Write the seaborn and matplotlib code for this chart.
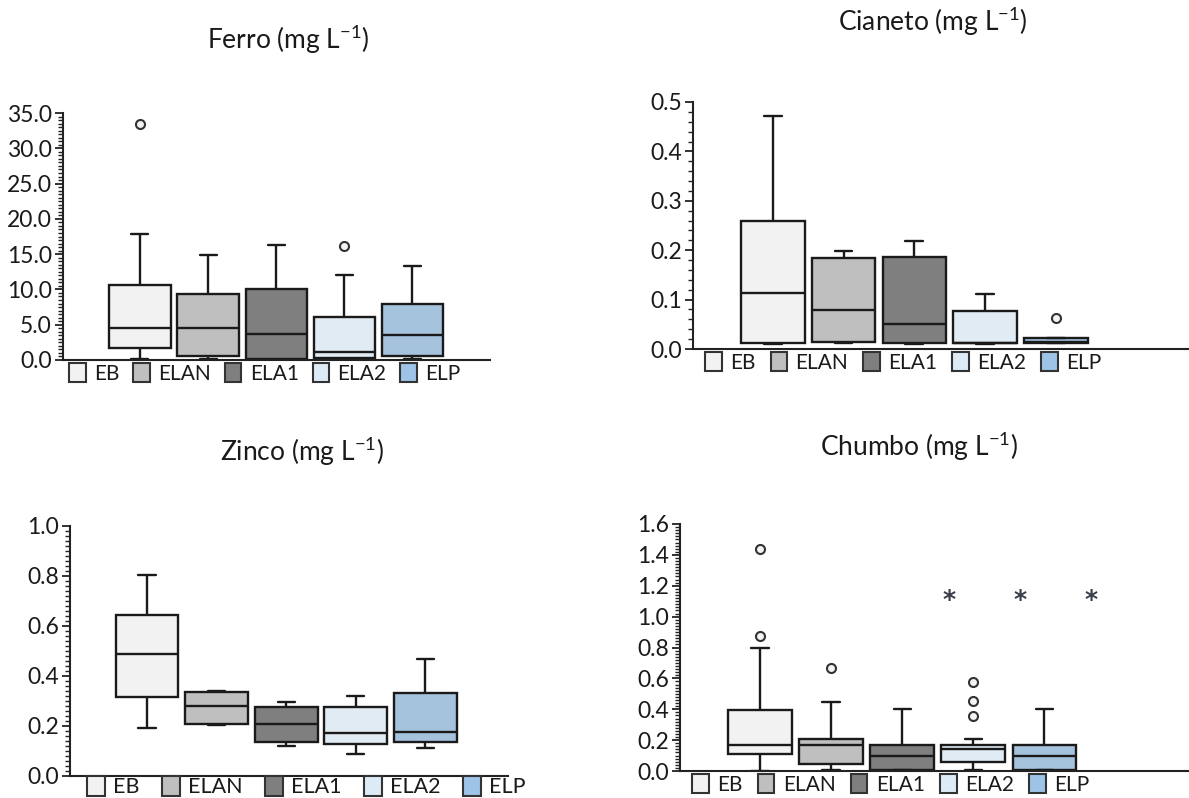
import numpy as np
import pandas as pd
import matplotlib
matplotlib.use("Agg")
import matplotlib.pyplot as plt
import seaborn as sns
from matplotlib.patches import Patch
from matplotlib.ticker import MultipleLocator, FormatStrFormatter

# ---------------- data (five-number summaries) ----------------
categorias = ["EB", "ELAN", "ELA1", "ELA2", "ELP"]
cores = ["#f2f2f2", "#bfbfbf", "#7f7f7f", "#ddebf7", "#9dc3e6"]

ferro_min = [0.1, 0.1, 0.05, 0.1, 0.2]
ferro_q1 = [1.75, 0.57, 0.1, 0.3, 0.5]
ferro_med = [4.6, 4.6, 3.7, 1.2, 3.5]
ferro_q3 = [10.6, 9.3, 10.0, 6.1, 7.9]
ferro_max = [17.8, 14.9, 16.3, 12.0, 13.3]
ferro_out_grupo = ["EB", "ELA2"]
ferro_out_valor = [33.4, 16.2]

cianeto_min = [0.010, 0.012, 0.010, 0.010, 0.012]
cianeto_q1 = [0.012, 0.014, 0.012, 0.012, 0.012]
cianeto_med = [0.114, 0.079, 0.050, 0.013, 0.015]
cianeto_q3 = [0.260, 0.184, 0.187, 0.076, 0.022]
cianeto_max = [0.472, 0.199, 0.219, 0.111, 0.022]
cianeto_out_grupo = ["ELP"]
cianeto_out_valor = [0.062]

zinco_min = [0.191, 0.204, 0.120, 0.088, 0.113]
zinco_q1 = [0.317, 0.208, 0.137, 0.128, 0.137]
zinco_med = [0.487, 0.280, 0.208, 0.171, 0.177]
zinco_q3 = [0.644, 0.335, 0.277, 0.277, 0.333]
zinco_max = [0.804, 0.340, 0.297, 0.321, 0.468]
zinco_out_grupo = []
zinco_out_valor = []

chumbo_min = [0.0, 0.009, 0.009, 0.009, 0.009]
chumbo_q1 = [0.108, 0.048, 0.009, 0.058, 0.009]
chumbo_med = [0.171, 0.171, 0.097, 0.140, 0.097]
chumbo_q3 = [0.394, 0.210, 0.167, 0.167, 0.167]
chumbo_max = [0.794, 0.448, 0.404, 0.210, 0.404]
chumbo_out_grupo = ["EB", "EB", "ELAN", "ELA2", "ELA2", "ELA2"]
chumbo_out_valor = [1.436, 0.874, 0.668, 0.575, 0.452, 0.359]
chumbo_sig_grupo = ["ELA1", "ELA2", "ELP"]
chumbo_sig_valor = [1.11, 1.11, 1.11]

# ---------------- style ----------------
sns.set_theme(style="white")
plt.rcParams["font.family"] = ["Lato", "DejaVu Sans"]
plt.rcParams["mathtext.default"] = "regular"

W, H = 1189, 798
fig = plt.figure(figsize=(W / 100, H / 100), dpi=100)
fig.patch.set_facecolor("white")

FS_TICK = 16.5
FS_TITLE = 19
EDGE = "#1a1a1a"


def painel(rect, mins, q1s, meds, q3s, maxs, out_g, out_v, ylim, major, minor,
           xlim, titulo, tpos, leg_dx, leg_fs, leg_cs, leg_pad=0.15,
           sig_g=None, sig_v=None):
    ax = fig.add_axes(rect)
    grupos, valores = [], []
    for g, a, b, c, d, e in zip(categorias, mins, q1s, meds, q3s, maxs):
        for v in (a, b, c, d, e):
            grupos.append(g)
            valores.append(v)
    df = pd.DataFrame({"grupo": grupos, "valor": valores})
    sns.boxplot(data=df, x="grupo", y="valor", hue="grupo", order=categorias,
                hue_order=categorias, palette=cores, whis=(0, 100), width=0.9,
                linewidth=1.7, linecolor=EDGE, showfliers=False, legend=False,
                capwidths=0.25, ax=ax)
    if len(out_g):
        dfo = pd.DataFrame({"grupo": out_g, "valor": out_v})
        sns.stripplot(data=dfo, x="grupo", y="valor", order=categorias,
                      jitter=False, color="#f4f4f4", edgecolor="#333333",
                      linewidth=1.5, size=6.5, ax=ax, zorder=5)
    if sig_g:
        for g, v in zip(sig_g, sig_v):
            ax.text(categorias.index(g) + 0.65, v, "*", ha="center", va="center",
                    fontsize=18, color="#3a3d4a", fontweight="bold",
                    family="DejaVu Sans")
    ax.set_xlim(*xlim)
    ax.set_ylim(*ylim)
    ax.yaxis.set_major_locator(MultipleLocator(major))
    ax.yaxis.set_minor_locator(MultipleLocator(minor))
    ax.yaxis.set_major_formatter(FormatStrFormatter("%.1f"))
    ax.set_xticks([])
    ax.set_xlabel("")
    ax.set_ylabel("")
    for s in ("top", "right"):
        ax.spines[s].set_visible(False)
    for s in ("left", "bottom"):
        ax.spines[s].set_linewidth(1.5)
        ax.spines[s].set_color("#222222")
    ax.tick_params(axis="y", which="major", direction="out", length=6,
                   width=1.3, color="#222222", labelsize=FS_TICK, pad=2,
                   labelcolor="#1a1a1a", left=True)
    ax.tick_params(axis="y", which="minor", direction="out", length=3.5,
                   width=1.0, color="#222222", left=True)
    ax.set_facecolor("white")
    handles = [Patch(facecolor=c, edgecolor="#333333", linewidth=1.5) for c in cores]
    bb = ax.get_position()
    ax.legend(handles, categorias, ncol=5, loc="upper left",
              bbox_to_anchor=(leg_dx / (bb.width * W), 0.0), frameon=False,
              fontsize=leg_fs, handlelength=0.8, handleheight=1.0,
              handletextpad=0.4, columnspacing=leg_cs, borderaxespad=leg_pad,
              borderpad=0.0, labelcolor="#1a1a1a")
    fig.text(tpos[0] / W, 1 - tpos[1] / H, titulo + r" (mg L$^{-1}$)",
             ha="center", va="center", fontsize=FS_TITLE, color="#1a1a1a")
    return ax


painel([63 / W, 1 - 360 / H, (490 - 63) / W, (360 - 113) / H],
       ferro_min, ferro_q1, ferro_med, ferro_q3, ferro_max,
       ferro_out_grupo, ferro_out_valor, (0, 35), 5, 0.5, (-1.13, 5.14),
       "Ferro", (288, 40), 3, 15, 0.66)

painel([693 / W, 1 - 349 / H, (1188 - 693) / W, (349 - 102) / H],
       cianeto_min, cianeto_q1, cianeto_med, cianeto_q3, cianeto_max,
       cianeto_out_grupo, cianeto_out_valor, (0, 0.5), 0.1, 0.02, (-1.13, 5.87),
       "Cianeto", (933, 22), 9, 15, 0.72)

painel([70 / W, 1 - 776 / H, (508 - 70) / W, (776 - 526) / H],
       zinco_min, zinco_q1, zinco_med, zinco_q3, zinco_max,
       zinco_out_grupo, zinco_out_valor, (0, 1.0), 0.2, 0.02, (-1.11, 5.19),
       "Zinco", (302, 452), 17, 15.5, 1.05, 0.02)

painel([680 / W, 1 - 771 / H, (1188 - 680) / W, (771 - 524) / H],
       chumbo_min, chumbo_q1, chumbo_med, chumbo_q3, chumbo_max,
       chumbo_out_grupo, chumbo_out_valor, (0, 1.6), 0.2, 0.02, (-1.13, 6.02),
       "Chumbo", (919, 447), 9, 15, 0.73, 0.15,
       chumbo_sig_grupo, chumbo_sig_valor)

fig.savefig("out.png", dpi=100, facecolor="white")
